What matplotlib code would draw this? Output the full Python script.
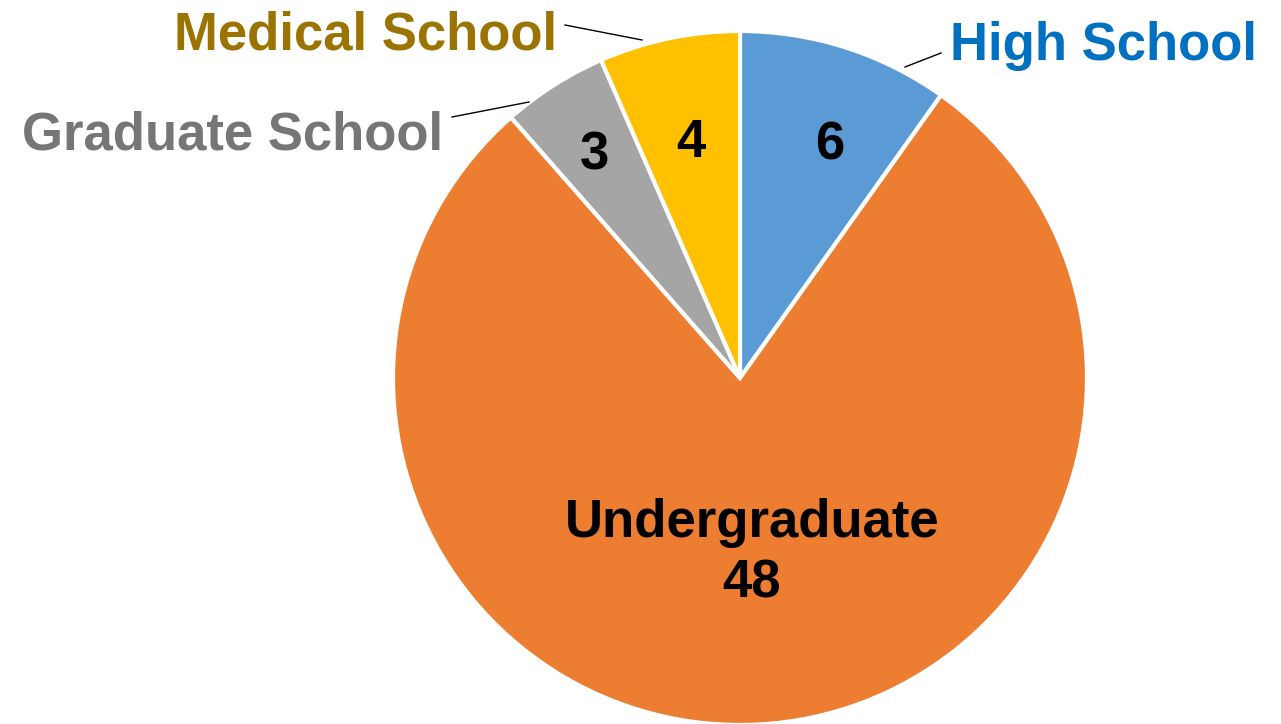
import matplotlib.pyplot as plt

plt.rcParams["font.family"] = ["Liberation Sans", "DejaVu Sans"]

categories = ["High School", "Undergraduate", "Graduate School", "Medical School"]
counts = [6, 48, 3, 4]
slice_colors = ["#5B9BD5", "#ED7D31", "#A5A5A5", "#FFC000"]

W, H = 1281, 724


def py(y):
    # pixel row (from top) -> data y
    return H - y


fig = plt.figure(figsize=(W / 100, H / 100), dpi=100)
ax = fig.add_axes([0, 0, 1, 1])
ax.set_xlim(0, W)
ax.set_ylim(0, H)
ax.set_aspect("equal")
ax.axis("off")

ax.pie(counts, colors=slice_colors, startangle=90, counterclock=False,
       center=(740, py(378)), radius=347, frame=True,
       wedgeprops=dict(edgecolor="white", linewidth=3))
ax.set_xlim(0, W)
ax.set_ylim(0, H)
ax.axis("off")

fs = 38
bold = dict(fontsize=fs, fontweight="bold")

# values inside slices
ax.text(830, py(145), str(counts[0]), ha="center", va="center", color="black", **bold)
ax.text(752, py(537), categories[1], ha="center", va="baseline", color="black", **bold)
ax.text(752, py(598), str(counts[1]), ha="center", va="baseline", color="black", **bold)
ax.text(594, py(156), str(counts[2]), ha="center", va="center", color="black", **bold)
ax.text(691, py(143), str(counts[3]), ha="center", va="center", color="black", **bold)

# outside category labels
ax.text(950, py(60), categories[0], ha="left", va="baseline", color="#0070C0", **bold)
ax.text(557, py(50), categories[3], ha="right", va="baseline", color="#9A7300", **bold)
ax.text(443, py(150), categories[2], ha="right", va="baseline", color="#767676", **bold)

# leader lines
ax.plot([905, 941], [py(67), py(53)], color="black", lw=1)
ax.plot([565, 642], [py(25), py(40)], color="black", lw=1)
ax.plot([452, 529], [py(117), py(102)], color="black", lw=1)

fig.savefig("out.png", dpi=100)
